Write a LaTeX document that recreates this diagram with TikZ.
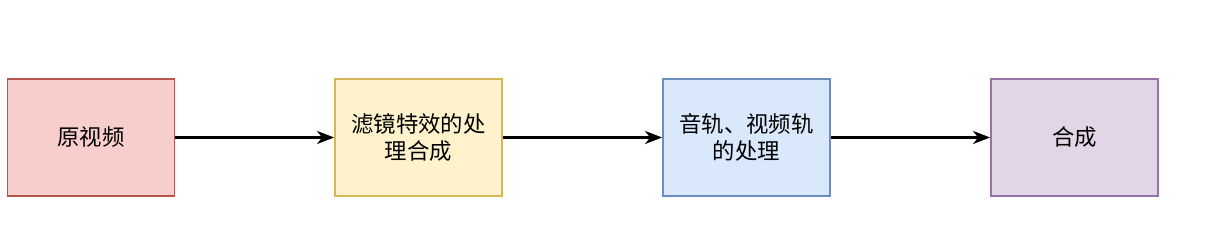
\documentclass[tikz,border=0pt]{standalone}
\usepackage{fontspec}
\newfontfamily\cjk{Noto Sans CJK SC}
\usetikzlibrary{arrows.meta}
\definecolor{redfill}{HTML}{F8CECC}\definecolor{redline}{HTML}{B85450}
\definecolor{yelfill}{HTML}{FFF2CC}\definecolor{yelline}{HTML}{D6B656}
\definecolor{blufill}{HTML}{DAE8FC}\definecolor{bluline}{HTML}{6C8EBF}
\definecolor{purfill}{HTML}{E1D5E7}\definecolor{purline}{HTML}{9673A6}
\begin{document}
\begin{tikzpicture}[x=1pt,y=-1pt,
  stepbox/.style={draw,line width=1.8pt,minimum width=167pt,minimum height=117pt,inner sep=0pt,align=center,
    font=\cjk\fontsize{22.4pt}{26.9pt}\selectfont},
  flow/.style={-{Stealth[length=17pt,width=13pt,inset=5pt]},line width=2.2pt}]
\useasboundingbox (0,0) rectangle (1208,248);
\node[stepbox,fill=redfill,draw=redline] (a) at (91,137.5) {原视频};
\node[stepbox,fill=yelfill,draw=yelline] (b) at (418.5,137.5) {滤镜特效的处\\理合成};
\node[stepbox,fill=blufill,draw=bluline] (c) at (746.5,137.5) {音轨、视频轨\\的处理};
\node[stepbox,fill=purfill,draw=purline] (d) at (1074.5,137.5) {合成};
\draw[flow] (a) -- (b);
\draw[flow] (b) -- (c);
\draw[flow] (c) -- (d);
\end{tikzpicture}
\end{document}
